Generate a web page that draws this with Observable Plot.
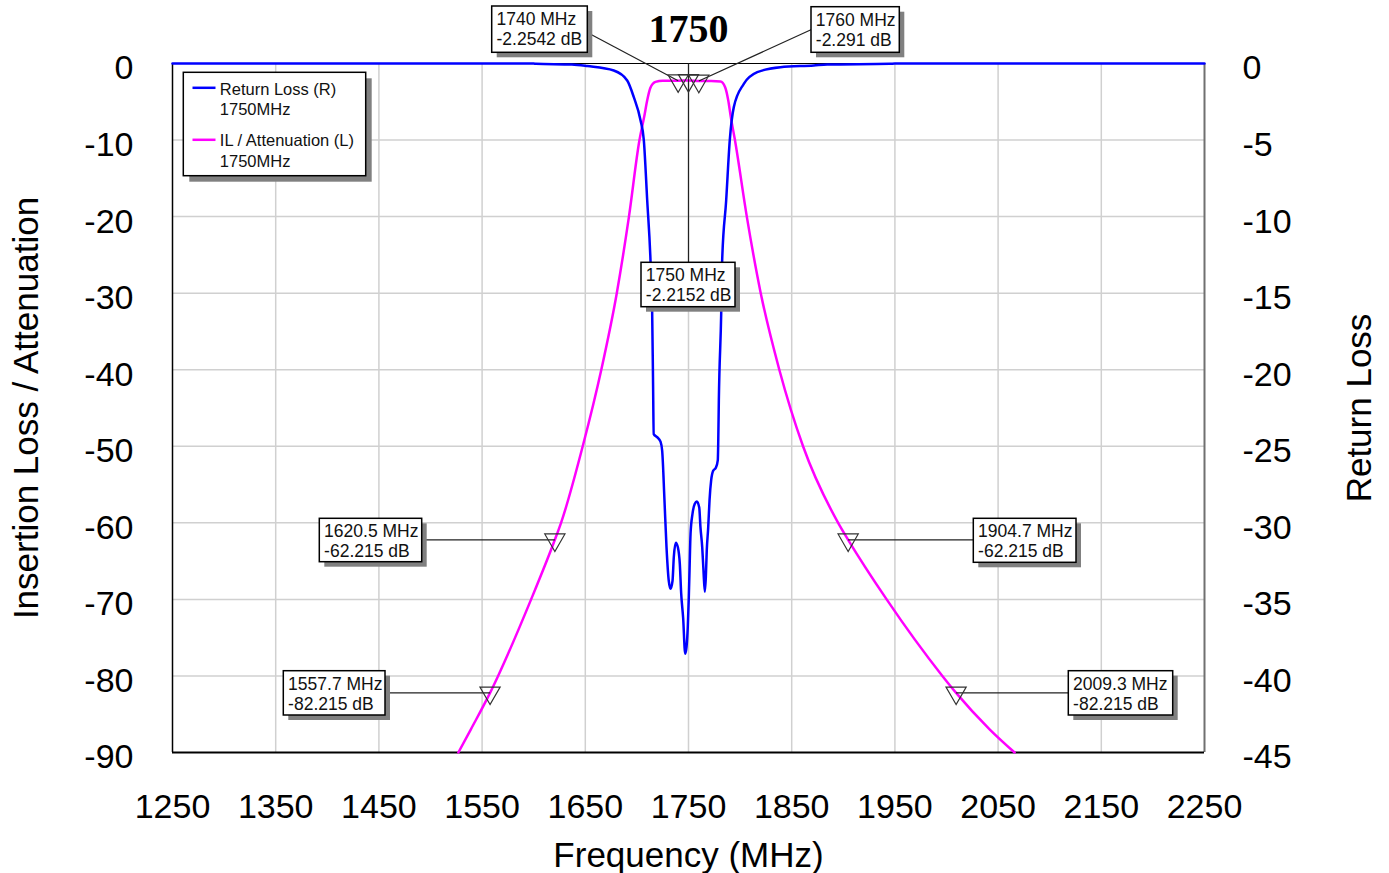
<!DOCTYPE html>
<html>
<head>
<meta charset="utf-8">
<script src="https://cdn.jsdelivr.net/npm/d3@7"></script>
<script src="https://cdn.jsdelivr.net/npm/@observablehq/plot@0.6"></script>
<style>html,body{margin:0;padding:0;background:#fff;overflow:hidden}</style>
</head>
<body>
<div id="chart"></div>
<script>
// ---------- data ----------
const xTicks = [1250, 1350, 1450, 1550, 1650, 1750, 1850, 1950, 2050, 2150, 2250];
const yTicks = [0, -10, -20, -30, -40, -50, -60, -70, -80, -90];

// IL / Attenuation (left axis, dB)
const ilFreq = [1527, 1539, 1557.7, 1565.5, 1597.5, 1620.5, 1626.5, 1647.5, 1665.5, 1680.5, 1692.3, 1702.5, 1707, 1710, 1713, 1718, 1725, 1740, 1750, 1760, 1772, 1781, 1785.5, 1788.5, 1791, 1795, 1806.5, 1820, 1838, 1861, 1895, 1904.7, 1942, 1996, 2009.3, 2042, 2066];
const ilDb   = [-90, -87, -82.215, -80, -70, -62.215, -60, -50, -40, -30, -20, -10, -7, -4.8, -3.2, -2.4, -2.25, -2.2542, -2.2152, -2.291, -2.3, -2.35, -3.1, -4.8, -7, -10, -20, -30, -40, -50, -60, -62.215, -70, -80, -82.215, -87, -90];

// Return Loss (right axis, dB)
const rlFreq = [1250, 1600, 1602, 1637, 1652, 1677.6, 1690.6, 1697, 1703.5, 1706.7, 1710, 1713.2, 1714.8, 1715.6, 1716.3, 1719.6, 1722.9, 1724.5, 1726.7, 1728.7, 1730.9, 1732.6, 1734.5, 1735.8, 1737.7, 1739.7, 1741.6, 1742.9, 1744.8, 1746.8, 1748.1, 1749.3, 1750.3, 1751, 1752, 1753.9, 1756.1, 1758.1, 1760.4, 1761.6, 1763.3, 1764.5, 1765.8, 1766.8, 1767.7, 1769.1, 1770.4, 1772, 1773.9, 1776.5, 1778.4, 1778.8, 1779.4, 1781.7, 1782.6, 1786.5, 1790, 1793.9, 1803.6, 1816.6, 1839.1, 1871.4, 1884.4, 1945, 1950, 2250];
const rlDb   = [0, 0, -0.02, -0.065, -0.17, -0.46, -1.11, -2.2, -3.7, -5, -8.95, -12.9, -16.3, -20.5, -24.2, -24.4, -24.7, -25.3, -28.5, -31.6, -33.8, -34.3, -33.8, -32.2, -31.3, -31.6, -32.7, -34.6, -36.2, -38.55, -38.1, -36.8, -34.85, -33.1, -30.7, -29.4, -28.75, -28.6, -29, -30.3, -31.6, -33.1, -34.5, -33.55, -31.8, -30.3, -28.5, -27.2, -26.6, -26.4, -25.9, -24.8, -22, -16.3, -12.9, -8.95, -5, -2.85, -1.33, -0.57, -0.24, -0.13, -0.065, -0.02, 0, 0];

// markers
const markerFreq = [1740, 1750, 1760, 1620.5, 1557.7, 1904.7, 2009.3];
const markerDb   = [-2.2542, -2.2152, -2.291, -62.215, -82.215, -62.215, -82.215];

const legendNames = ["Return Loss (R)", "IL / Attenuation (L)"];
const legendSub = ["1750MHz", "1750MHz"];
const titleText = "1750";
const xTitle = "Frequency (MHz)";
const yLeftTitle = "Insertion Loss / Attenuation";
const yRightTitle = "Return Loss";

// ---------- layout ----------
const W = 1389, H = 873, mL = 172, mR = 185, mT = 63, mB = 121;
const px2f = px => 1250 + (px - mL) / (W - mL - mR) * 1000;
const px2v = py => -(py - mT) / (H - mT - mB) * 90;

// annotation boxes (pixel layout): left, top, right, bottom
const boxLayout = [
  [491.7, 6, 587.3, 52.3],
  [641, 262.3, 735, 306.7],
  [811, 6.7, 899.3, 52.3],
  [319.3, 518.3, 421.7, 561.7],
  [283.3, 670.7, 385, 715],
  [973.3, 518.3, 1076, 562.3],
  [1068.3, 670.7, 1172.7, 715]
];
// leader attachment on box (pixel); null y = horizontal at marker
const attachLayout = [[587.3, 32.3], [688, 262.3], [811, 29], [421.7, null], [385, null], [973.3, null], [1068.3, null]];

const il = ilFreq.map((f, i) => ({f, v: ilDb[i]}));
const rl = rlFreq.map((f, i) => ({f, r: rlDb[i]}));
const markers = markerFreq.map((f, i) => ({f, v: markerDb[i]}));
const anno = markers.map((m, i) => ({
  ...m,
  box: boxLayout[i],
  lx1: m.f, ly1: i === 1 ? 0 : m.v,
  lx2: px2f(attachLayout[i][0]),
  ly2: attachLayout[i][1] == null ? m.v : px2v(attachLayout[i][1]),
  line1: `${m.f} MHz`, line2: `${m.v} dB`
}));

const invTri = {
  draw(ctx, size) {
    const y = Math.sqrt(size / (3 * Math.sqrt(3)));
    const s = Math.sqrt(3) * y;
    ctx.moveTo(0, 2 * y); ctx.lineTo(-s, -y); ctx.lineTo(s, -y); ctx.closePath();
  }
};

// legend layout
const legBox = [183.3, 72.3, 365.7, 175.7];
const legRows = [
  {name: legendNames[0], sub: legendSub[0], color: "#0000ff", sy: 87.3, b1: 94, b2: 114},
  {name: legendNames[1], sub: legendSub[1], color: "#ff00ff", sy: 139.3, b1: 145.7, b2: 166}
];

const annoFont = 17.5;

const chart = Plot.plot({
  width: W, height: H,
  marginLeft: mL, marginRight: mR, marginTop: mT, marginBottom: mB,
  x: {domain: [1250, 2250]},
  y: {domain: [-90, 0]},
  style: {fontFamily: "'Liberation Sans', Arial, sans-serif", fontSize: "34px", background: "#fff", color: "#000", overflow: "visible"},
  marks: [
    Plot.ruleX(xTicks.slice(1, -1), {stroke: "#d0d0d0", strokeWidth: 1.5}),
    Plot.ruleY(yTicks.slice(1, -1), {stroke: "#d0d0d0", strokeWidth: 1.5}),
    Plot.ruleY([0], {stroke: "#000", strokeWidth: 1}),
    Plot.ruleX([2250], {stroke: "#707070", strokeWidth: 2}),
    Plot.ruleX([1250], {stroke: "#000", strokeWidth: 1.5}),
    Plot.ruleY([-90], {stroke: "#000", strokeWidth: 2}),
    Plot.axisX(xTicks, {anchor: "bottom", tickSize: 0, tickPadding: 41, tickFormat: d => String(d), fontSize: 34, label: null}),
    Plot.axisY(yTicks, {anchor: "left", tickSize: 0, tickPadding: 39, tickFormat: d => String(d), fontSize: 34, dy: 5, label: null}),
    Plot.axisY(yTicks, {anchor: "right", tickSize: 0, tickPadding: 38, tickFormat: d => String(d / 2), fontSize: 34, dy: 5, label: null}),
    Plot.line(il, {x: "f", y: "v", stroke: "#ff00ff", strokeWidth: 2.5, curve: "monotone-x"}),
    Plot.line(rl, {x: "f", y: d => d.r * 2, stroke: "#0000ff", strokeWidth: 2.5, curve: "monotone-x"}),
    // annotations
    Plot.link(anno, {x1: "lx1", y1: "ly1", x2: "lx2", y2: "ly2", stroke: "#222", strokeWidth: 1.2}),
    Plot.rect(anno, {x1: d => px2f(d.box[0] + 5), x2: d => px2f(d.box[2] + 5), y1: d => px2v(d.box[1] + 5), y2: d => px2v(d.box[3] + 5), fill: "#808080"}),
    Plot.rect(anno, {x1: d => px2f(d.box[0]), x2: d => px2f(d.box[2]), y1: d => px2v(d.box[1]), y2: d => px2v(d.box[3]), fill: "#fff", stroke: "#000", strokeWidth: 1.5}),
    Plot.text(anno, {x: d => px2f(d.box[0] + 4.3), y: d => px2v(d.box[1] + 18.5), text: "line1", textAnchor: "start", lineAnchor: "bottom", fontSize: annoFont, fill: "#111"}),
    Plot.text(anno, {x: d => px2f(d.box[0] + 4.3), y: d => px2v(d.box[1] + 38.5), text: "line2", textAnchor: "start", lineAnchor: "bottom", fontSize: annoFont, fill: "#111"}),
    Plot.dot(markers, {x: "f", y: "v", symbol: invTri, r: 7.5, stroke: "#333", fill: "none", strokeWidth: 1.2}),
    // legend
    Plot.rect([legBox], {x1: d => px2f(d[0] + 6), x2: d => px2f(d[2] + 6), y1: d => px2v(d[1] + 6), y2: d => px2v(d[3] + 6), fill: "#808080"}),
    Plot.rect([legBox], {x1: d => px2f(d[0]), x2: d => px2f(d[2]), y1: d => px2v(d[1]), y2: d => px2v(d[3]), fill: "#fff", stroke: "#000", strokeWidth: 1.5}),
    Plot.link(legRows, {x1: () => px2f(192), x2: () => px2f(215), y1: d => px2v(d.sy), y2: d => px2v(d.sy), stroke: "color", strokeWidth: 2.5}),
    Plot.text(legRows, {x: () => px2f(219.3), y: d => px2v(d.b1), text: "name", textAnchor: "start", lineAnchor: "bottom", fontSize: 16.5, fill: "#111"}),
    Plot.text(legRows, {x: () => px2f(219.3), y: d => px2v(d.b2), text: "sub", textAnchor: "start", lineAnchor: "bottom", fontSize: 16.5, fill: "#111"}),
    // titles
    Plot.text([titleText], {frameAnchor: "top", dy: -21.5, textAnchor: "middle", lineAnchor: "bottom", fontSize: 40, fontWeight: "bold", fontFamily: "'Liberation Serif', 'Times New Roman', serif", fill: "#000"}),
    Plot.text([xTitle], {frameAnchor: "bottom", dy: 114, textAnchor: "middle", lineAnchor: "bottom", fontSize: 35, fill: "#000"}),
    Plot.text([yLeftTitle], {frameAnchor: "left", dx: -146, rotate: -90, textAnchor: "middle", lineAnchor: "middle", fontSize: 35, fill: "#000"}),
    Plot.text([yRightTitle], {frameAnchor: "right", dx: 155, rotate: -90, textAnchor: "middle", lineAnchor: "middle", fontSize: 35, fill: "#000"})
  ]
});
document.getElementById("chart").appendChild(chart);
</script>
</body>
</html>
